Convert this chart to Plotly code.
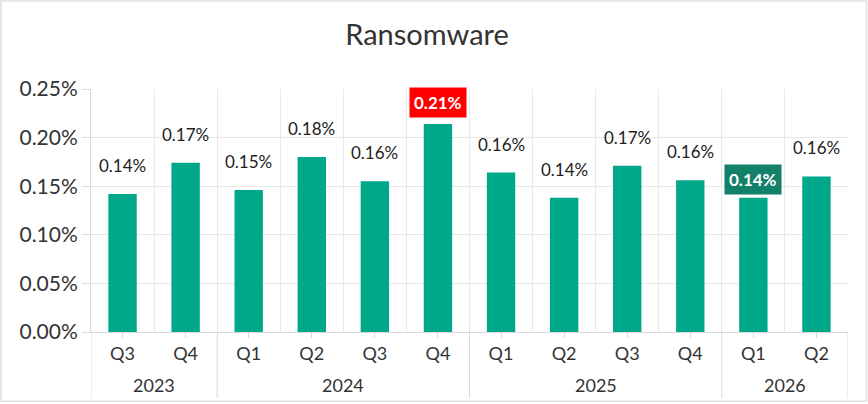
import plotly.graph_objects as go

years = ["2023", "2023", "2024", "2024", "2024", "2024", "2025", "2025", "2025", "2025", "2026", "2026"]
quarters = ["Q3", "Q4", "Q1", "Q2", "Q3", "Q4", "Q1", "Q2", "Q3", "Q4", "Q1", "Q2"]
values = [0.142, 0.174, 0.146, 0.180, 0.155, 0.214, 0.164, 0.138, 0.171, 0.156, 0.138, 0.160]
labels = ["0.14%", "0.17%", "0.15%", "0.18%", "0.16%", "0.21%", "0.16%", "0.14%", "0.17%", "0.16%", "0.14%", "0.16%"]
highlight = ["", "", "", "", "", "max", "", "", "", "", "last", ""]

FONT = "Lato"
BAR = "#00A88A"
LINE = "#D9D9D9"
GRID = "#E8E8E8"

n = len(values)
xs = list(range(n))

fig = go.Figure()
fig.add_trace(go.Bar(x=xs, y=values, width=0.45, marker=dict(color=BAR, line=dict(width=0)),
                     hoverinfo="skip"))

for i, (v, lab, h) in enumerate(zip(values, labels, highlight)):
    if h == "max":
        fig.add_annotation(x=i, y=v, text="<b>" + lab + "</b>", showarrow=False, yshift=6,
                           font=dict(family=FONT, size=17, color="white"), bgcolor="#FF0000",
                           borderpad=4, yanchor="bottom")
    elif h == "last":
        fig.add_annotation(x=i, y=v, text="<b>" + lab + "</b>", showarrow=False, yshift=3,
                           font=dict(family=FONT, size=17, color="white"), bgcolor="#13806A",
                           borderpad=4, yanchor="bottom")
    else:
        fig.add_annotation(x=i, y=v, text=lab, showarrow=False, yshift=16,
                           font=dict(family=FONT, size=17, color="#222"), yanchor="bottom")

# year groups: labels and dividers
groups = []
for i, y in enumerate(years):
    if not groups or groups[-1][0] != y:
        groups.append([y, i, i])
    else:
        groups[-1][2] = i
bounds = sorted(set([g[1] - 0.5 for g in groups] + [g[2] + 0.5 for g in groups]))
for y, a, b in groups:
    fig.add_annotation(x=(a + b) / 2, xref="x", y=-0.218, yref="paper", text=y, showarrow=False,
                       font=dict(family=FONT, size=18, color="#333"), yanchor="middle")
for bx in bounds:
    fig.add_shape(type="line", xref="x", yref="paper", x0=bx, x1=bx, y0=0, y1=-0.272,
                  line=dict(color=LINE, width=1))

# outer border of the chart
fig.add_shape(type="rect", xref="paper", yref="paper", x0=-0.119, x1=1.0245, y0=-0.285, y1=1.362,
              line=dict(color="#E0E0E0", width=1.5), layer="below")

fig.update_layout(
    width=868, height=404,
    margin=dict(l=91, r=20, t=89, b=72),
    paper_bgcolor="white", plot_bgcolor="white",
    title=dict(text="Ransomware", x=0.492, xanchor="center", y=0.913, yanchor="middle",
               font=dict(family=FONT, size=29, color="#333")),
    showlegend=False,
    font=dict(family=FONT, color="#333"),
)
fig.update_yaxes(range=[0, 0.25], dtick=0.05, tickformat=".2f", ticksuffix="%",
                 showgrid=True, gridcolor=GRID, gridwidth=1,
                 zeroline=False, showline=True, linecolor=LINE,
                 ticks="outside", ticklen=8, tickcolor=LINE,
                 tickfont=dict(family=FONT, size=21, color="#333"))
fig.update_xaxes(range=[-0.5, n - 0.5], tickmode="array", tickvals=xs, ticktext=quarters,
                 showgrid=False, showline=True, linecolor=LINE,
                 ticks="outside", ticklen=5, tickcolor=LINE,
                 minor=dict(tickmode="array", tickvals=[i - 0.5 for i in range(n + 1)],
                            showgrid=True, gridcolor=GRID, ticks=""),
                 tickfont=dict(family=FONT, size=18, color="#333"))

fig.write_html("out.html", config={"displayModeBar": False},
               post_script="document.body.style.margin='0';")
